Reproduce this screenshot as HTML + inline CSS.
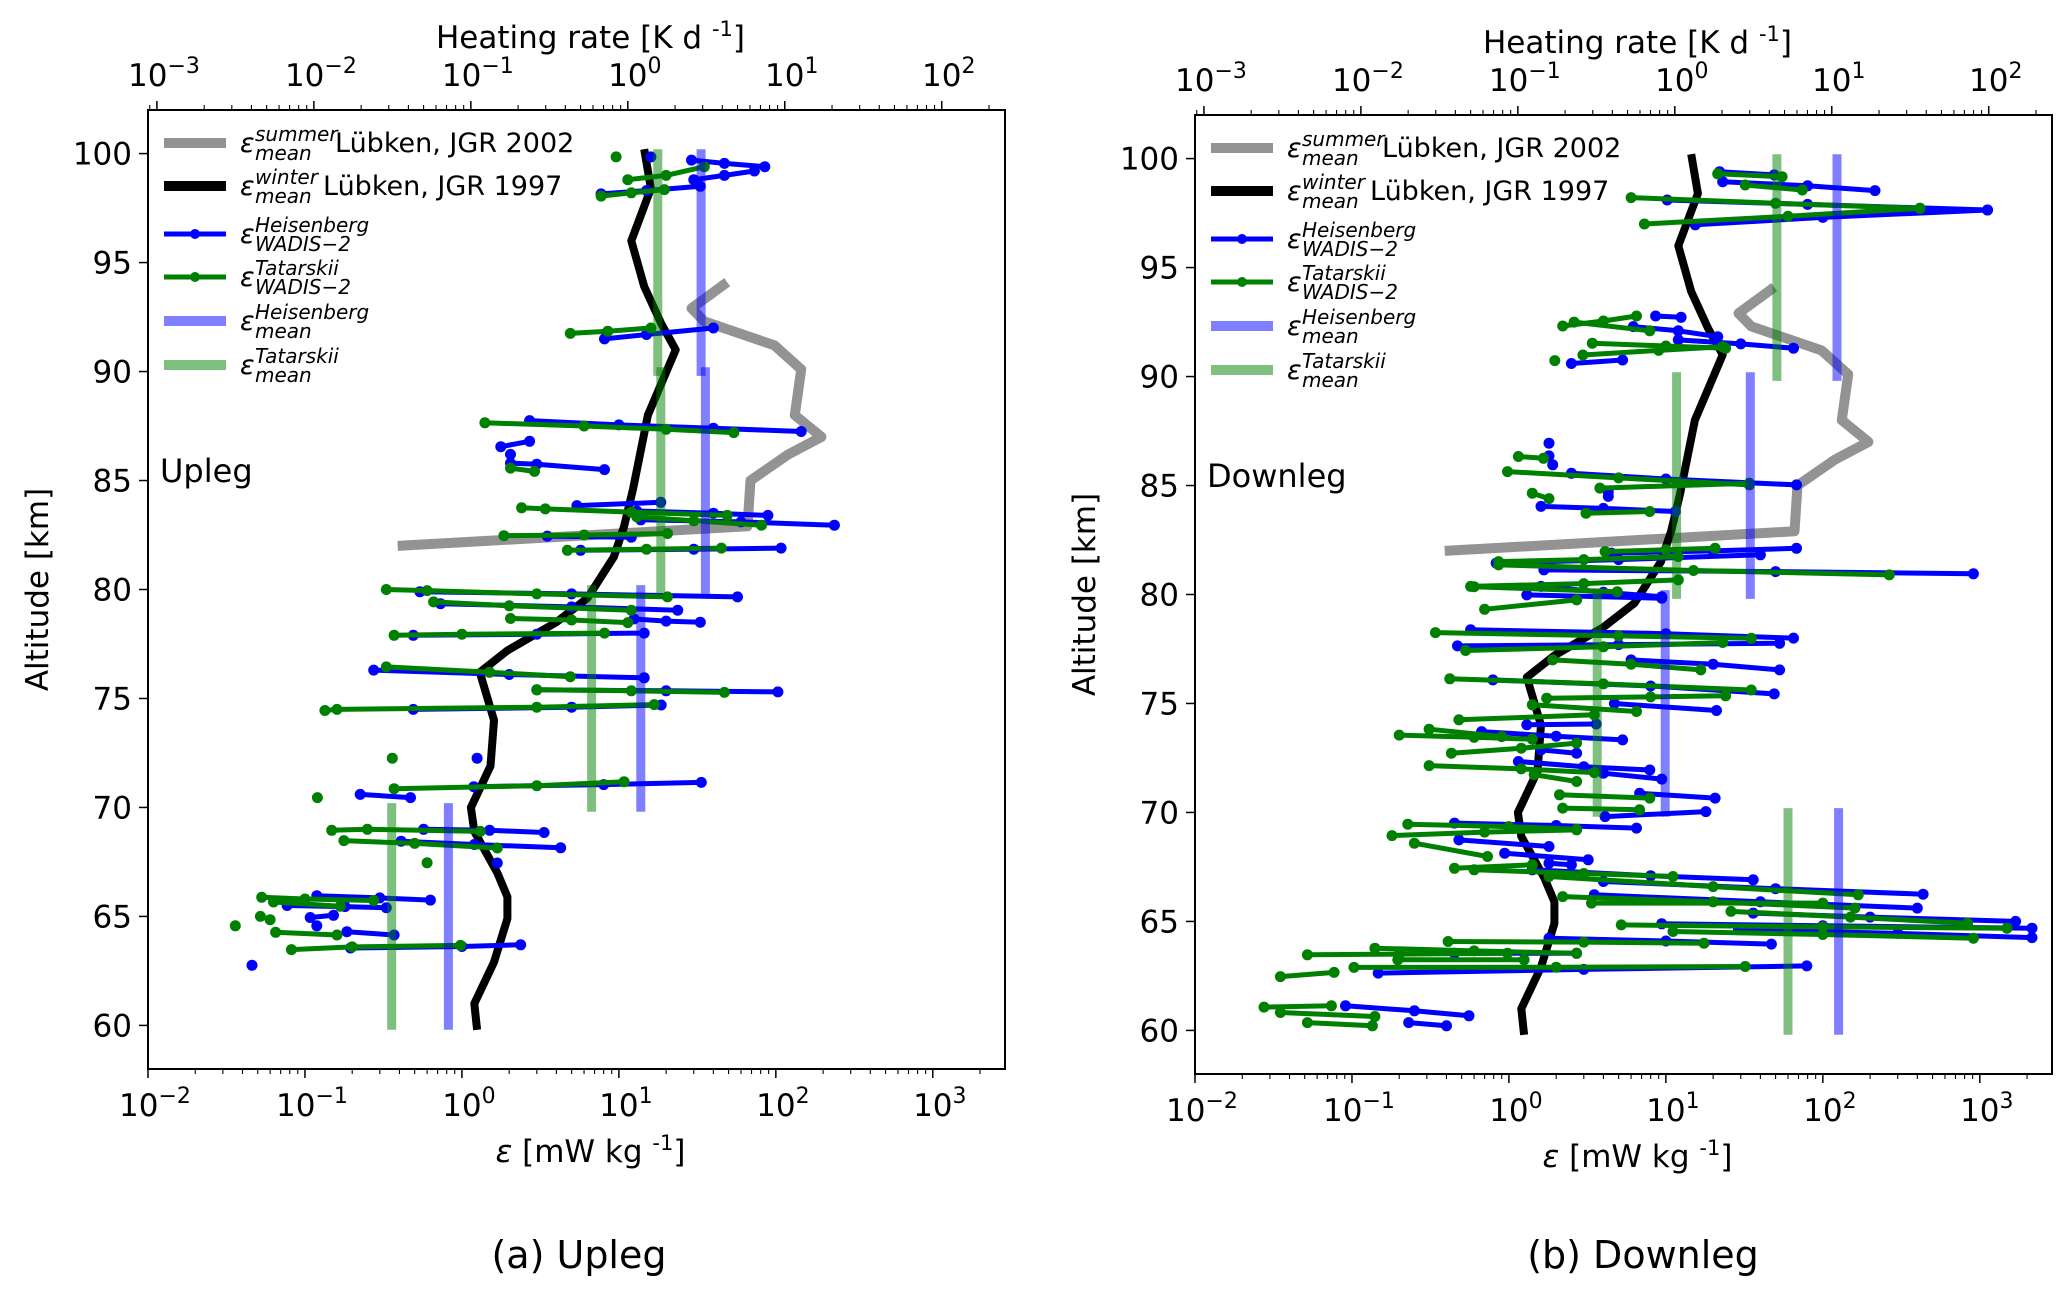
<!DOCTYPE html>
<html><head><meta charset="utf-8"><style>
html,body{margin:0;padding:0;background:#fff;}
svg{display:block;font-family:"DejaVu Sans","Liberation Sans",sans-serif;}
</style></head><body>
<svg id="chart" xmlns="http://www.w3.org/2000/svg" width="2067" height="1293" viewBox="0 0 2067 1293"></svg>
<script>
// ---- climatology (shared) [eps mW/kg, altitude km]
const winterMean = [[14.5,100.2],[16,98.4],[12,96],[14.5,93.9],[18.6,92.2],[23,91],[15.3,88],[12.3,84.6],[10.8,82.9],[9.3,81.5],[6.3,79.6],[4,78.5],[1.95,77.2],[1.3,76.2],[1.6,74],[1.52,71.9],[1.14,70],[1.2,68.9],[1.68,67],[1.95,65.9],[1.95,64.9],[1.6,62.9],[1.2,61],[1.25,59.8]];
const summerMean = [[49,94.1],[29,92.9],[35,92.3],[98,91.2],[145,90.1],[132,88],[195,87],[120,86.2],[69,85],[66,82.9],[0.39,82]];
// ---- Upleg
const upBlue = [
 [[29,99.7],[47,99.55],[85,99.4]],[[73,99.2],[47,99.0],[30,98.8]],[[7.7,98.15],[15,98.3],[33,98.5]],[[16,99.85]],
 [[8.1,91.5],[15,91.7],[40,92.0]],[[2.7,87.75],[10,87.55],[40,87.4],[145,87.25]],[[1.77,86.55],[2.7,86.8]],[[2.04,86.2]],
 [[2.04,85.8],[3,85.75],[8.1,85.5]],[[5.4,83.85],[18.5,84.0]],[[13,83.6],[40,83.5],[89,83.4]],[[13.8,83.2],[60,83.1],[236,82.95]],
 [[3.5,82.45],[12,82.4]],[[5.7,81.8],[30,81.85],[108,81.9]],[[0.54,79.9],[5,79.8],[57,79.66]],[[0.73,79.35],[5,79.2],[23.7,79.05]],
 [[12.5,78.65],[20,78.55],[33,78.5]],[[0.49,77.9],[3,77.95],[14.5,78.0]],[[0.274,76.3],[2,76.1],[14.5,75.95]],[[3,75.4],[20,75.35],[103,75.3]],
 [[0.49,74.5],[5,74.6],[18.6,74.7]],[[1.25,72.26]],[[1.19,70.95],[8,71.05],[33.5,71.15]],[[0.225,70.6],[0.47,70.45]],
 [[0.57,69.0],[1.5,68.95],[3.34,68.85]],[[0.41,68.45],[1.2,68.3],[4.26,68.15]],[[1.68,67.45]],[[0.119,65.95],[0.3,65.85],[0.63,65.75]],
 [[0.077,65.5],[0.18,65.45],[0.33,65.4]],[[0.108,64.95],[0.152,65.05]],[[0.119,64.57]],[[0.185,64.3],[0.37,64.15]],
 [[0.195,63.55],[1,63.62],[2.37,63.7]],[[0.046,62.76]]];
const upGreen = [
 [[9.6,99.85]],[[11.4,98.8],[20,99.0],[35,99.4]],[[7.7,98.05],[12,98.2],[19.5,98.35]],[[4.9,91.75],[8.5,91.85],[16,92.0]],
 [[1.4,87.65],[6,87.5],[20,87.35],[54,87.2]],[[2.04,85.57],[2.9,85.42]],[[2.4,83.75],[3.4,83.7],[12,83.55],[49,83.4]],
 [[13,83.33],[30,83.15],[81,82.95]],[[1.85,82.47],[6,82.5],[20.4,82.57]],[[4.7,81.8],[15,81.85],[45,81.9]],
 [[0.33,80.0],[0.6,79.95],[3,79.8],[20.4,79.66]],[[0.66,79.43],[2,79.25],[12,79.05]],[[2.04,78.67],[5,78.6],[11.4,78.48]],
 [[0.37,77.9],[1,77.95],[8.1,78.0]],[[0.33,76.45],[1.5,76.2],[4.9,76.0]],[[3,75.4],[12,75.35],[47,75.28]],
 [[0.134,74.45],[0.16,74.5],[3,74.6],[16.8,74.72]],[[0.36,72.26]],[[0.37,70.86],[3,71.0],[10.8,71.18]],[[0.12,70.45]],
 [[0.148,68.95],[0.25,69.0],[1.31,68.9]],[[0.177,68.48],[0.5,68.35],[1.68,68.14]],[[0.6,67.46]],
 [[0.053,65.88],[0.1,65.8],[0.274,65.73]],[[0.063,65.66],[0.168,65.47]],[[0.052,65.0]],[[0.06,64.85]],[[0.036,64.57]],
 [[0.065,64.27],[0.16,64.15]],[[0.082,63.48],[0.2,63.6],[0.98,63.67]]];
const upHeisBars = [[0.82,59.8,70.2],[13.8,69.8,80.2],[35.6,79.8,90.2],[33.4,89.8,100.2]];
const upTatBars = [[0.357,59.8,70.2],[6.7,69.8,80.2],[18.5,79.8,90.2],[17.7,89.8,100.2]];
// ---- Downleg
const dnBlue = [
 [[22,99.4],[49,99.25]],[[23,98.94],[80,98.75],[215,98.53]],[[10.2,98.1],[80,97.9],[1120,97.64]],[[15.4,96.96],[100,97.3],[1120,97.64]],
 [[8.6,92.78],[12.5,92.72]],[[6.2,92.29],[12,92.1],[21.4,91.83]],[[12,91.68],[30,91.5],[65,91.3]],[[2.5,90.6],[5.3,90.76]],
 [[1.8,86.94]],[[1.8,86.36]],[[1.9,85.95]],[[2.5,85.56],[10,85.3],[68,85.03]],[[4.3,84.7],[4.3,84.5]],[[1.6,84.04],[4,83.95],[11.5,83.81]],
 [[4.5,81.9],[20,82.0],[68,82.12]],[[0.83,81.44],[5,81.6],[40,81.82]],[[1.67,81.13],[50,81.05],[910,80.95]],[[1.6,80.37],[4,80.1],[9.4,79.9]],
 [[1.3,79.98],[9.4,79.83]],[[0.57,78.38],[10,78.2],[65,78.0]],[[0.47,77.64],[5,77.7],[53,77.76]],[[6,77.0],[20,76.8],[53,76.54]],
 [[0.79,76.08],[8,75.8],[49,75.44]],[[4.7,75.0],[21,74.68]],[[1.3,74.02],[3.6,74.06]],[[0.67,73.71],[2,73.5],[5.3,73.33]],
 [[1.6,72.87],[2.7,72.72]],[[1.15,72.34],[3,72.1],[7.9,71.95]],[[4,71.8],[9.4,71.53]],[[6.8,70.88],[20.6,70.66]],[[4.1,69.81],[18,70.04]],
 [[0.45,69.51],[2,69.4],[6.5,69.28]],[[0.48,68.74],[1.8,68.44]],[[0.94,68.13],[3.2,67.83]],[[1.8,67.67],[2.5,67.6]],
 [[1.41,67.37],[8,67.1],[36,66.91]],[[4,66.83],[50,66.5],[435,66.25]],[[3.5,66.22],[40,65.9],[400,65.61]],
 [[36,65.38],[200,65.2],[1690,65.0]],[[9.4,64.89],[100,64.8],[2150,64.69]],[[29,64.62],[300,64.45],[2150,64.26]],
 [[1.8,64.23],[10,64.1],[47,63.96]],[[0.45,63.54],[2.7,63.54]],[[0.147,62.63],[3,62.8],[79,62.96]],
 [[0.091,61.13],[0.25,60.9],[0.557,60.67]],[[0.23,60.36],[0.4,60.21]]];
const dnGreen = [
 [[21.4,99.3],[55,99.17]],[[32,98.79],[74,98.56]],[[6,98.21],[50,97.95],[416,97.72]],[[7.3,97.0],[60,97.35],[416,97.72]],
 [[2.2,92.32],[4,92.55],[6.5,92.78]],[[2.6,92.5],[7.9,92.1]],[[3.4,91.53],[10,91.4],[24,91.3]],[[2.96,90.99],[9,91.2],[23,91.37]],[[1.96,90.73]],
 [[1.15,86.33],[1.66,86.25]],[[0.98,85.64],[5,85.35],[34,85.03]],[[3.8,84.88],[34,85.1]],[[1.41,84.65],[1.8,84.4]],[[3.1,83.73],[7.9,83.81]],
 [[4.1,81.97],[10,82.05],[20.6,82.12]],[[0.86,81.51],[3,81.6],[12,81.74]],[[0.86,81.36],[15,81.1],[265,80.9]],[[0.57,80.37],[3,80.5],[12,80.67]],
 [[0.6,80.36],[4.9,80.13]],[[0.7,79.32],[2.7,79.75]],[[0.34,78.25],[5,78.1],[35,77.99]],[[0.53,77.43],[4,77.6],[23,77.8]],
 [[1.9,77.0],[6,76.8],[16.7,76.54]],[[0.42,76.13],[4,75.9],[35,75.62]],[[1.74,75.24],[8,75.3],[24,75.35]],[[1.41,74.94],[6.5,74.63]],
 [[0.48,74.25],[3.5,74.48]],[[0.2,73.55],[0.6,73.45],[1.41,73.36]],[[0.31,73.82],[0.9,73.48]],[[0.43,72.72],[1.2,72.95],[2.7,73.18]],
 [[0.31,72.15],[1.2,72.0],[3.5,71.83]],[[1.45,71.73],[2.7,71.42]],[[2.1,70.81],[7.9,70.66]],[[2.2,70.2],[6.8,70.12]],
 [[0.227,69.46],[1,69.35],[2.7,69.23]],[[0.18,68.94],[0.7,69.1],[2.7,69.2]],[[0.25,68.59],[0.73,67.98]],[[0.45,67.44],[1.41,67.6]],
 [[0.6,67.37],[3,67.2],[11.1,67.06]],[[1.8,67.06],[20,66.6],[168,66.22]],[[2.2,66.14],[20,65.9],[160,65.61]],[[3.36,65.84],[100,65.84]],
 [[26,65.46],[150,65.2],[835,64.92]],[[5.2,64.84],[100,64.75],[1490,64.69]],[[11.1,64.54],[100,64.4],[910,64.23]],
 [[0.41,64.08],[3,64.05],[17.5,64.0]],[[0.14,63.77],[0.6,63.65],[2.7,63.54]],[[0.052,63.47],[0.2,63.5],[0.98,63.54]],
 [[0.196,63.24],[1.25,63.24]],[[0.103,62.89],[2,62.9],[32,62.93]],[[0.035,62.47],[0.077,62.66]],
 [[0.0275,61.07],[0.074,61.13]],[[0.035,60.82],[0.14,60.64]],[[0.052,60.36],[0.135,60.21]]];
const dnHeisBars = [[126,59.8,70.2],[9.9,69.8,80.2],[34.5,79.8,90.2],[123,89.8,100.2]];
const dnTatBars = [[60,59.8,70.2],[3.65,69.8,80.2],[11.7,79.8,90.2],[51,89.8,100.2]];
// ---- axis ticks
const yTicks = [60,65,70,75,80,85,90,95,100];
const xTickExp = [-2,-1,0,1,2,3];
const topTickExp = [-3,-2,-1,0,1,2];
const hrFactor = 11.4;

const NS='http://www.w3.org/2000/svg';
const svg=document.getElementById('chart');
function mk(tag,attrs,parent){const e=document.createElementNS(NS,tag);for(const k in attrs)e.setAttribute(k,attrs[k]);(parent||svg).appendChild(e);return e;}
const XMIN=-2,XMAX=3.46,YMIN=58,YMAX=102;

function drawPanel(p){
  const g=mk('g',{});
  
  
  const X=e=>p.L+(Math.log10(e)-XMIN)/(XMAX-XMIN)*(p.R-p.L);
  const Y=a=>p.B-(a-YMIN)/(YMAX-YMIN)*(p.B-p.T);
  const line=(pts,stroke,w,op,name)=>{const el=mk('polyline',{points:pts.map(q=>X(q[0]).toFixed(1)+','+Y(q[1]).toFixed(1)).join(' '),fill:'none',stroke:stroke,'stroke-width':w,'stroke-opacity':op,'stroke-linejoin':'round'},g);
    
    return el;};
  const cid='clip'+p.id;
  const cp=mk('clipPath',{id:cid},g);mk('rect',{x:p.L,y:p.T,width:p.R-p.L,height:p.B-p.T},cp);
  const d=mk('g',{'clip-path':'url(#'+cid+')'},g);
  
  
  const ln=(pts,stroke,w,op,name)=>{const el=line(pts,stroke,w,op,name);d.appendChild(el);return el;};
  ln(summerMean,'#808080',10,0.85,'summer-mean-line');
  ln(winterMean,'#000',8,1,'winter-mean-line');
  const series=(segs,col,name)=>{
    segs.forEach(s=>{
      if(s.length>1) ln(s,col,5,1,name+'-segment');
      s.forEach(q=>{const c=mk('circle',{cx:X(q[0]).toFixed(1),cy:Y(q[1]).toFixed(1),r:5.5,fill:col},d);
        
        });
    });
  };
  series(p.blue,'#0000ff','heisenberg');
  series(p.green,'#008000','tatarskii');
  p.hb.forEach(b=>ln([[b[0],b[1]],[b[0],b[2]]],'#0000ff',9,0.5,'heisenberg-mean-bar'));
  p.tb.forEach(b=>ln([[b[0],b[1]],[b[0],b[2]]],'#008000',9,0.5,'tatarskii-mean-bar'));
  const fr=mk('rect',{x:p.L,y:p.T,width:p.R-p.L,height:p.B-p.T,fill:'none',stroke:'#000','stroke-width':2},g);
  
  
  yTicks.forEach(v=>{const y=Y(v);mk('line',{x1:p.L-9,x2:p.L,y1:y,y2:y,stroke:'#000','stroke-width':1.5},g);
    const t=mk('text',{x:p.L-16,y:y+11,'text-anchor':'end','font-size':31},g);t.textContent=v;
    
    });
  const yl=mk('text',{x:0,y:0,'text-anchor':'middle','font-size':31,transform:`translate(${p.L-100},${(p.T+p.B)/2}) rotate(-90)`},g);
  yl.textContent='Altitude [km]';
  
  
  for(let e=-2;e<=3;e++){for(let m=1;m<10;m++){const v=m*Math.pow(10,e);const lv=Math.log10(v);if(lv>XMAX)break;const x=X(v);
    mk('line',{x1:x,x2:x,y1:p.B,y2:p.B+(m===1?9:5),stroke:'#000','stroke-width':m===1?1.5:1.1},g);}}
  const supLabel=(x,y,exp,name)=>{const t=mk('text',{x:x,y:y,'text-anchor':'middle','font-size':31},g);
    const a=mk('tspan',{},t);a.textContent='10';const b=mk('tspan',{dy:-13,'font-size':22},t);b.textContent=(exp<0?'\u2212':'')+Math.abs(exp);
    };
  xTickExp.forEach(e=>supLabel(X(Math.pow(10,e))+7,p.B+47,e,'x-tick-label'));
  const xl=mk('text',{x:(p.L+p.R)/2+14,y:p.B+93,'text-anchor':'middle','font-size':31},g);
  xl.innerHTML='<tspan font-style="italic">ε</tspan> [mW kg <tspan dy="-12" font-size="21">-1</tspan><tspan dy="12">]</tspan>';
  
  
  for(let e=-4;e<=3;e++){for(let m=1;m<10;m++){const v=m*Math.pow(10,e)*hrFactor;const lv=Math.log10(v);if(lv<XMIN||lv>XMAX)continue;const x=X(v);
    mk('line',{x1:x,x2:x,y1:p.T,y2:p.T-(m===1?9:5),stroke:'#000','stroke-width':m===1?1.5:1.1},g);}}
  topTickExp.forEach(e=>supLabel(X(Math.pow(10,e)*hrFactor)+7,p.T-24,e,'top-tick-label'));
  const tl=mk('text',{x:(p.L+p.R)/2+14,y:p.T-62,'text-anchor':'middle','font-size':31},g);
  tl.innerHTML='Heating rate [K d <tspan dy="-12" font-size="21">-1</tspan><tspan dy="12">]</tspan>';
  
  
  const pl=mk('text',{x:p.L+12,y:p.T+372,'font-size':32},g);pl.textContent=p.label;
  
  
  const lg=mk('g',{},g);
  
  
  const ent=[['#808080',10,0.85,false,'summer','mean',' Lübken, JGR 2002'],['#000',10,1,false,'winter','mean',' Lübken, JGR 1997'],
    ['#0000ff',5,1,true,'Heisenberg','WADIS\u22122',''],['#008000',5,1,true,'Tatarskii','WADIS\u22122',''],
    ['#0000ff',10,0.5,false,'Heisenberg','mean',''],['#008000',10,0.5,false,'Tatarskii','mean','']];
  const rows=[33,76,124,167,211,255];
  ent.forEach((en,i)=>{const y=p.T+rows[i];const ge=mk('g',{},lg);
    
    
    mk('line',{x1:p.L+16,x2:p.L+78,y1:y,y2:y,stroke:en[0],'stroke-width':en[1],'stroke-opacity':en[2]},ge);
    if(en[3])mk('circle',{cx:p.L+47,cy:y,r:5,fill:en[0]},ge);
    const ex=p.L+92;
    const e1=mk('text',{x:ex,y:y+9,'font-size':27,'font-style':'italic'},ge);e1.textContent='ε';
    const s1=mk('text',{x:ex+15,y:y-2,'font-size':20,'font-style':'italic'},ge);s1.textContent=en[4];
    const s2=mk('text',{x:ex+15,y:y+17,'font-size':20,'font-style':'italic'},ge);s2.textContent=en[5];
    if(en[6]){const w=(en[4]==='summer'?80:68);const t=mk('text',{x:ex+15+w,y:y+9,'font-size':27},ge);t.textContent=en[6];}
  });
}
drawPanel({id:'a',name:'upleg-panel',label:'Upleg',L:148,R:1005,T:110,B:1069,blue:upBlue,green:upGreen,hb:upHeisBars,tb:upTatBars});
drawPanel({id:'b',name:'downleg-panel',label:'Downleg',L:1195,R:2052,T:115,B:1074,blue:dnBlue,green:dnGreen,hb:dnHeisBars,tb:dnTatBars});
const c1=mk('text',{x:579,y:1268,'text-anchor':'middle','font-size':38});c1.textContent='(a) Upleg';


const c2=mk('text',{x:1643,y:1268,'text-anchor':'middle','font-size':38});c2.textContent='(b) Downleg';


</script>
</body></html>
